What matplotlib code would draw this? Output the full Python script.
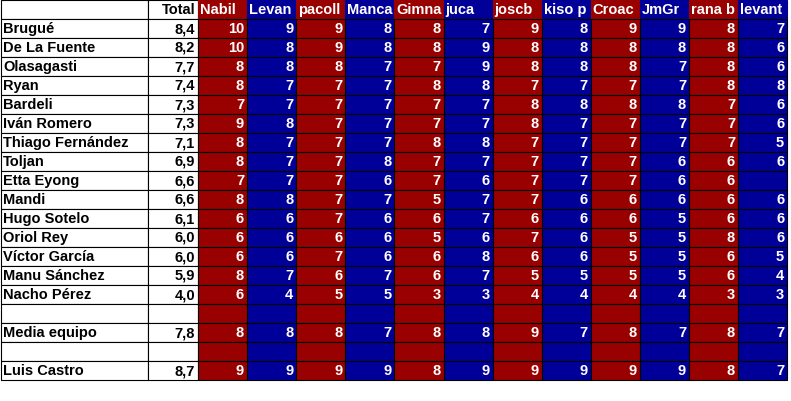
import matplotlib.pyplot as plt
from matplotlib.patches import Rectangle

plt.rcParams['font.family'] = ['Liberation Sans', 'DejaVu Sans']

raters = ['Nabil', 'Levan', 'pacoll', 'Manca', 'Gimna', 'juca', 'joscb', 'kiso p',
          'Croac', 'JmGr', 'rana b', 'levant']

jugadores = ['Brugué', 'De La Fuente', 'Olasagasti', 'Ryan', 'Bardeli', 'Iván Romero',
             'Thiago Fernández', 'Toljan', 'Etta Eyong', 'Mandi', 'Hugo Sotelo',
             'Oriol Rey', 'Víctor García', 'Manu Sánchez', 'Nacho Pérez',
             '', 'Media equipo', '', 'Luis Castro']

totales = ['8,4', '8,2', '7,7', '7,4', '7,3', '7,3', '7,1', '6,9', '6,6', '6,6', '6,1',
           '6,0', '6,0', '5,9', '4,0', '', '7,8', '', '8,7']

notas = [
    [10, 9, 9, 8, 8, 7, 9, 8, 9, 9, 8, 7],
    [10, 8, 9, 8, 8, 9, 8, 8, 8, 8, 8, 6],
    [8, 8, 8, 7, 7, 9, 8, 8, 8, 7, 8, 6],
    [8, 7, 7, 7, 8, 8, 7, 7, 7, 7, 8, 8],
    [7, 7, 7, 7, 7, 7, 8, 8, 8, 8, 7, 6],
    [9, 8, 7, 7, 7, 7, 8, 7, 7, 7, 7, 6],
    [8, 7, 7, 7, 8, 8, 7, 7, 7, 7, 7, 5],
    [8, 7, 7, 8, 7, 7, 7, 7, 7, 6, 6, 6],
    [7, 7, 7, 6, 7, 6, 7, 7, 7, 6, 6, None],
    [8, 8, 7, 7, 5, 7, 7, 6, 6, 6, 6, 6],
    [6, 6, 7, 6, 6, 7, 6, 6, 6, 5, 6, 6],
    [6, 6, 6, 6, 5, 6, 7, 6, 5, 5, 8, 6],
    [6, 6, 7, 6, 6, 8, 6, 6, 5, 5, 6, 5],
    [8, 7, 6, 7, 6, 7, 5, 5, 5, 5, 6, 4],
    [6, 4, 5, 5, 3, 3, 4, 4, 4, 4, 3, 3],
    [None] * 12,
    [8, 8, 8, 7, 8, 8, 9, 7, 8, 7, 8, 7],
    [None] * 12,
    [9, 9, 9, 9, 8, 9, 9, 9, 9, 9, 8, 7],
]

ROJO = '#990000'
AZUL = '#000099'

fig = plt.figure(figsize=(7.91, 4.01), dpi=100)
ax = fig.add_axes([0, 0, 1, 1])
ax.set_xlim(0, 791)
ax.set_ylim(401, 0)
ax.axis('off')

h = 19.0
x_name, x_tot, x0, w = 1, 148, 198, 49.1
fs = 10.5


def celda(x, y, ancho, color, texto='', ha='right', tc='black', borde='black'):
    r = Rectangle((x, y), ancho, h, facecolor=color, edgecolor=borde, lw=0.8)
    ax.add_patch(r)
    if texto != '':
        tx = x + ancho - 3 if ha == 'right' else x + 2
        t = ax.text(tx, y + h / 2 + 0.5, texto, ha=ha, va='center', color=tc,
                    fontsize=fs, fontweight='bold')
        t.set_clip_path(r)


# cabecera
celda(x_name, 0, x_tot - x_name, 'white')
celda(x_tot, 0, x0 - x_tot, 'white', 'Total')
for j, nombre in enumerate(raters):
    col = ROJO if j % 2 == 0 else AZUL
    celda(x0 + j * w, 0, w, col, nombre, ha='left', tc='white', borde=col)

for i, jug in enumerate(jugadores):
    y = (i + 1) * h
    celda(x_name, y, x_tot - x_name, 'white', jug, ha='left')
    celda(x_tot, y, x0 - x_tot, 'white', totales[i])
    for j, v in enumerate(notas[i]):
        col = ROJO if j % 2 == 0 else AZUL
        celda(x0 + j * w, y, w, col, '' if v is None else str(v), tc='white')

fig.savefig('out.png', dpi=100)
